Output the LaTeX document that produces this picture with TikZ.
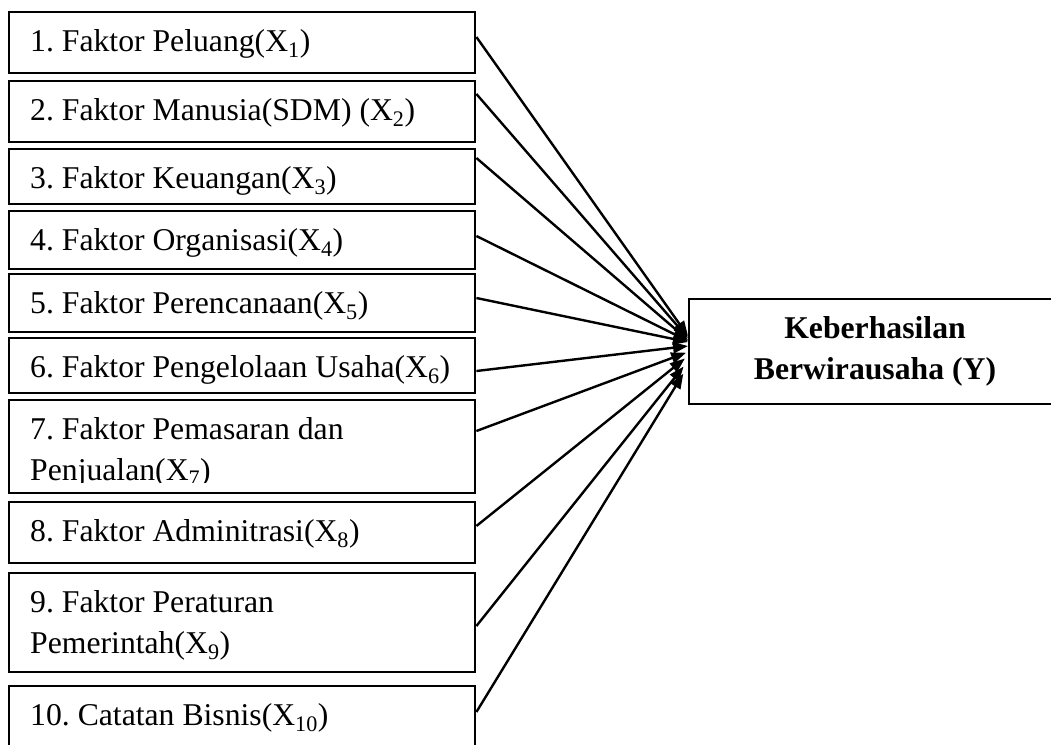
\documentclass[tikz,border=0pt]{standalone}
\usepackage{fontspec}
\setmainfont{Liberation Serif}
\usetikzlibrary{arrows.meta}
\frenchspacing

\tikzset{
    faktor/.style={draw, line width=2.4pt, rectangle, inner sep=0pt,
        anchor=north west, minimum width=466pt},
    teks/.style={anchor=base west, inner sep=0pt, align=left},
    hasil/.style={draw, line width=2.4pt, rectangle, inner sep=0pt,
        anchor=north west, minimum width=374pt, minimum height=105pt},
    panah/.style={line width=2.4pt, -{Triangle[length=15pt,width=11pt]}}
}

\begin{document}
\begin{tikzpicture}[x=1pt, y=-1pt, font=\fontsize{31.7}{40.5}\selectfont]
    % Ukuran gambar
    \useasboundingbox (0,0) rectangle (1051,744);

    % Kotak faktor (X)
    \node[faktor, minimum height=61pt] (x1) at (8,11) {};
    \node[faktor, minimum height=61pt] (x2) at (8,80) {};
    \node[faktor, minimum height=55pt] (x3) at (8,148) {};
    \node[faktor, minimum height=58pt] (x4) at (8,210) {};
    \node[faktor, minimum height=58pt] (x5) at (8,273) {};
    \node[faktor, minimum height=55pt] (x6) at (8,337) {};
    \node[faktor, minimum height=93pt] (x7) at (8,399) {};
    \node[faktor, minimum height=61pt] (x8) at (8,501) {};
    \node[faktor, minimum height=99pt] (x9) at (8,572) {};
    \node[faktor, minimum height=61pt] (x10) at (8,685) {};

    % Teks faktor (dua baris: titik = baris terakhir)
    \node[teks] (t1) at (30,51.5) {1. Faktor Peluang(X\textsubscript{1})};
    \node[teks] (t2) at (30,120.5) {2. Faktor Manusia(SDM) (X\textsubscript{2})};
    \node[teks] (t3) at (30,188.5) {3. Faktor Keuangan(X\textsubscript{3})};
    \node[teks] (t4) at (30,250.5) {4. Faktor Organisasi(X\textsubscript{4})};
    \node[teks] (t5) at (30,313.5) {5. Faktor Perencanaan(X\textsubscript{5})};
    \node[teks] (t6) at (30,377.5) {6. Faktor Pengelolaan Usaha(X\textsubscript{6})};
    \begin{scope}
        \clip (x7.north west) rectangle (x7.east |- 0,482);
        \node[teks] (t7) at (30,480) {7. Faktor Pemasaran dan\\Penjualan(X\textsubscript{7})};
    \end{scope}
    \node[teks] (t8) at (30,541.5) {8. Faktor Adminitrasi(X\textsubscript{8})};
    \node[teks] (t9) at (30,653) {9. Faktor Peraturan\\Pemerintah(X\textsubscript{9})};
    \node[teks] (t10) at (30,725.5) {10. Catatan Bisnis(X\textsubscript{10})};

    % Kotak hasil (Y)
    \node[hasil] (y) at (688,298) {};
    \node[anchor=base, inner sep=0pt, align=center, font=\fontsize{31.7}{40.5}\selectfont\bfseries] (ty) at (875,379) {Keberhasilan\\Berwirausaha (Y)};

    % Panah X ke Y
    \foreach \i/\ya/\yb/\s in {1/37/336/0, 2/94/338/0, 3/158/340/0, 4/236/341/0, 5/298/342/0,
        6/371/346/0, 7/431/352/2, 8/526/356/4, 9/626/361/7, 10/712/366/9} {
        \draw[panah, shorten >=\s pt] (x\i.east |- 0,\ya) -- (y.west |- 0,\yb);
    }
\end{tikzpicture}
\end{document}
